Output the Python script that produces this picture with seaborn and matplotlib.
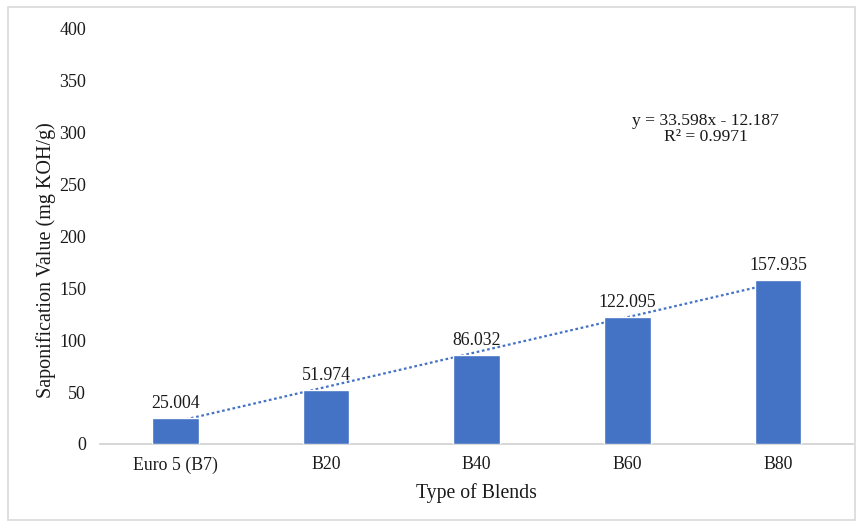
import matplotlib
matplotlib.use("Agg")
import matplotlib.pyplot as plt
import matplotlib.patches as mpatches
import numpy as np
import pandas as pd
import seaborn as sns

blends = ["Euro 5 (B7)", "B20", "B40", "B60", "B80"]
sap_values = [25.004, 51.974, 86.032, 122.095, 157.935]
label_texts = ["25.004", "51.974", "86.032", "122.095", "157.935"]
trend_slope = 33.598
trend_intercept = -12.187
trend_r2 = "0.9971"
y_ticks = [0, 50, 100, 150, 200, 250, 300, 350, 400]

sns.set_theme(style="white")
plt.rcParams["font.family"] = ["Liberation Serif", "DejaVu Serif"]

fig = plt.figure(figsize=(8.62, 5.27), dpi=100)
ax = fig.add_axes([0.116, 0.1575, 0.874, 0.7875])

df = pd.DataFrame({"Blend": blends, "Value": sap_values})
sns.barplot(data=df, x="Blend", y="Value", color="#4472C4", width=0.31,
            saturation=1, ax=ax, zorder=3)

# linear trendline (Excel-style, x = 1..n), drawn behind the bars
xs = np.arange(len(blends))
trend = trend_slope * (xs + 1) + trend_intercept
ax.plot(xs, trend, linestyle=(0, (1.2, 1.2)), color="#4472C4", lw=1.6, zorder=2)

for x, v, t in zip(xs, sap_values, label_texts):
    ax.text(x, v + 6, t, ha="center", va="bottom", fontsize=12.8, color="#1a1a1a")

ax.text(3.52, 288, f"y = {trend_slope}x - {abs(trend_intercept)}\nR² = {trend_r2}",
        ha="center", va="bottom", fontsize=12.6, color="#1a1a1a", linespacing=1.0)

ax.set_ylim(0, 400)
ax.set_xlim(-0.5, len(blends) - 0.5)
ax.set_yticks(y_ticks)
ax.set_yticklabels([str(t) for t in y_ticks], fontsize=13, color="#1a1a1a")
ax.tick_params(axis="x", labelsize=12.8, colors="#1a1a1a", length=0, pad=9)
ax.tick_params(axis="y", length=0, pad=10)
ax.set_xlabel("Type of Blends", fontsize=14.2, color="#1a1a1a", labelpad=7)
ax.set_ylabel("Saponification Value (mg KOH/g)", fontsize=14.5, color="#1a1a1a", labelpad=2)
ax.yaxis.label.set_y(0.443)

for side in ["top", "right", "left"]:
    ax.spines[side].set_visible(False)
ax.spines["bottom"].set_color("#d0d0d0")
ax.spines["bottom"].set_linewidth(1.2)
ax.grid(False)

border = mpatches.Rectangle((8 / 862, 7 / 527), 847 / 862, 513 / 527,
                            transform=fig.transFigure, fill=False,
                            edgecolor="#d9d9d9", lw=1.2)
fig.patches.append(border)

fig.savefig("out.png", dpi=100)
